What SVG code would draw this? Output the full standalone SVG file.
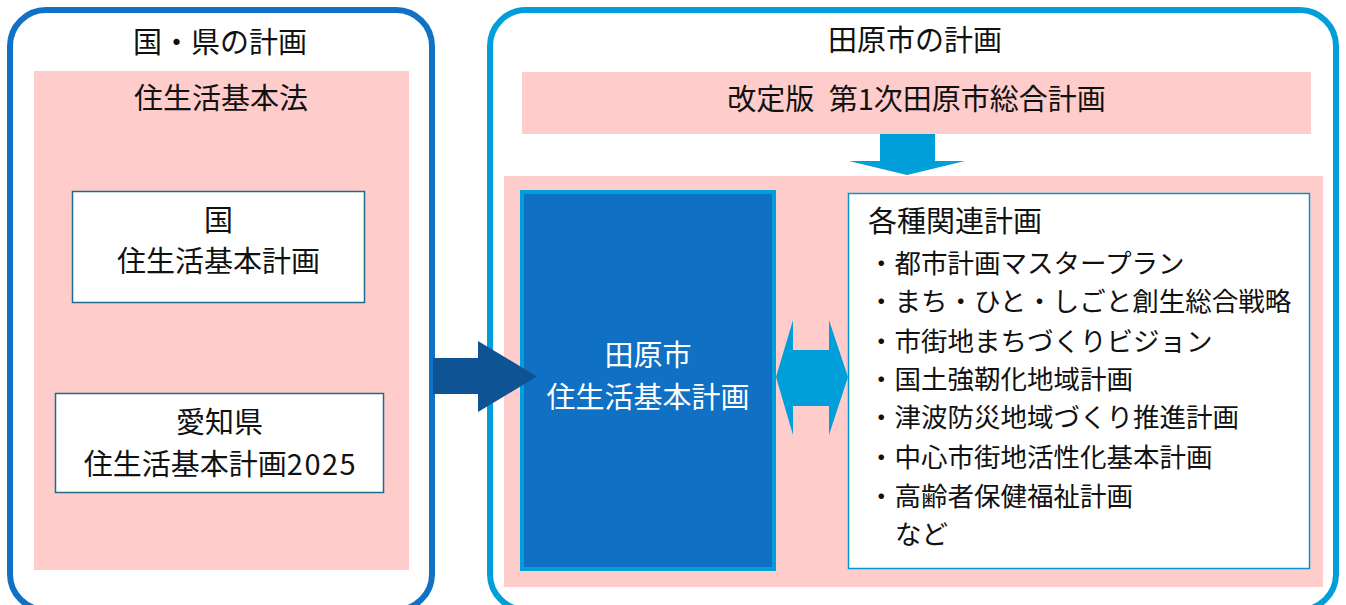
<svg xmlns="http://www.w3.org/2000/svg" width="1346" height="605" viewBox="0 0 1346 605">
<style>
text{font-family:"Noto Sans CJK JP","Noto Sans",sans-serif;fill:#111;}
.t29{font-size:29px;text-anchor:middle;}
.h{font-size:29px;}
.li{font-size:26.5px;}
.w{fill:#fff;}
.pink{fill:#FFCCCC;}
.wbox{fill:#fff;stroke:#1F6B8C;stroke-width:1.5;}
.arrowL{fill:#009FD9;}
</style>
<rect width="1346" height="605" fill="#fff"/>
<g id="panel-national">
<rect x="10" y="10" width="422" height="600" rx="36" fill="#fff" stroke="#1171C5" stroke-width="6"/>
<text class="t29" x="220" y="53">国・県の計画</text>
</g>
<g id="law">
<rect class="pink" x="34" y="71" width="375" height="499"/>
<text class="t29" x="221" y="109">住生活基本法</text>
</g>
<g id="national-plan">
<rect class="wbox" x="72.5" y="191.5" width="292" height="111"/>
<text class="t29" x="218.5" y="231">国</text>
<text class="t29" x="218.5" y="272">住生活基本計画</text>
</g>
<g id="aichi-plan">
<rect class="wbox" x="55.5" y="393.5" width="328" height="99"/>
<text class="t29" x="219.5" y="433">愛知県</text>
<text class="t29" x="220.5" y="475">住生活基本計画<tspan letter-spacing="1.5">2025</tspan></text>
</g>
<g id="panel-tahara">
<rect x="490" y="10" width="846" height="600" rx="36" fill="#fff" stroke="#009FD9" stroke-width="6"/>
<text class="t29" x="915" y="51">田原市の計画</text>
</g>
<g id="general-plan">
<rect class="pink" x="522" y="72" width="789" height="62"/>
<text class="t29" x="916.5" y="110" xml:space="preserve" word-spacing="8">改定版 第1次田原市総合計画</text>
</g>
<g id="inner-area">
<rect class="pink" x="504" y="176" width="819" height="411"/>
</g>
<g id="tahara-housing-plan">
<rect x="522" y="192" width="252" height="377" fill="#1070C4" stroke="#00A0DC" stroke-width="4"/>
<text class="t29 w" x="648" y="366">田原市</text>
<text class="t29 w" x="648" y="408">住生活基本計画</text>
</g>
<g id="related-plans">
<rect x="848.5" y="193.5" width="461" height="375" fill="#fff" stroke="#0096D0" stroke-width="1.5"/>
<text class="h" x="868" y="231.5">各種関連計画</text>
<text class="li" x="868" y="272.5">・都市計画マスタープラン</text>
<text class="li" x="868" y="311">・まち・ひと・しごと創生総合戦略</text>
<text class="li" x="868" y="350.5">・市街地まちづくりビジョン</text>
<text class="li" x="868" y="389">・国土強靭化地域計画</text>
<text class="li" x="868" y="427">・津波防災地域づくり推進計画</text>
<text class="li" x="868" y="466.5">・中心市街地活性化基本計画</text>
<text class="li" x="868" y="505.5">・高齢者保健福祉計画</text>
<text class="li" x="895" y="544">など</text>
</g>
<g id="connectors">
<polygon points="433,358 478,358 478,341 537,376.5 478,412 478,394 433,394" fill="#0E5394"/>
<polygon class="arrowL" points="880,134 935,134 935,161 965,161 907,175 849,161 880,161"/>
<polygon class="arrowL" points="776,377 793,320 793,350 829,350 829,320 848,377 829,435 829,406 793,406 793,435"/>
</g>
</svg>
